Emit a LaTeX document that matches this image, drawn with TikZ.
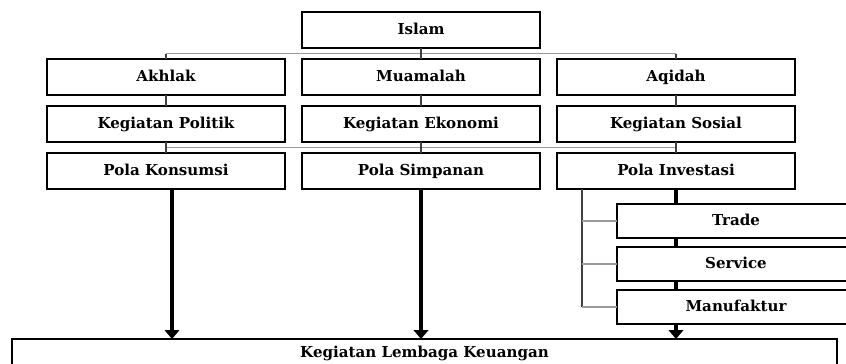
\documentclass[tikz,border=0pt]{standalone}
\usepackage{fontspec}
\setmainfont{DejaVu Serif}
\usetikzlibrary{arrows.meta,positioning,calc}

\begin{document}
\begin{tikzpicture}[x=0.75pt, y=-0.75pt,
      node distance=8.25pt and 12.75pt,
      box/.style={draw, line width=1.1pt, outer sep=0pt, inner sep=0pt,
        minimum width=178.5pt, minimum height=27pt, text height=8pt, text depth=2pt,
        font=\fontsize{11.3}{13}\selectfont\bfseries},
      sub/.style={box, minimum height=25.5pt},
      link/.style={draw=black!40, line width=1pt},
      tick/.style={draw=black!75, line width=1pt},
      bar/.style={line width=3pt},
      arr/.style={-{Triangle[length=6.75pt,width=11pt]}, line width=3pt}]
  \useasboundingbox (0,0) rectangle (846,364);
  \node[box] (islam) at (421,30) {Islam};
  \node[box, below=of islam] (muamalah) {Muamalah};
  \node[box, left=of muamalah] (akhlak) {Akhlak};
  \node[box, right=of muamalah] (aqidah) {Aqidah};
  \node[box, below=of akhlak] (politik) {Kegiatan Politik};
  \node[box, below=of muamalah] (ekonomi) {Kegiatan Ekonomi};
  \node[box, below=of aqidah] (sosial) {Kegiatan Sosial};
  \node[box, below=of politik] (konsumsi) {Pola Konsumsi};
  \node[box, below=of ekonomi] (simpanan) {Pola Simpanan};
  \node[box, below=of sosial] (investasi) {Pola Investasi};
  \node[sub, below=11.25pt of investasi, xshift=45pt] (trade) {Trade};
  \node[sub, below=6.75pt of trade] (service) {Service};
  \node[sub, below=6.75pt of service] (manufaktur) {Manufaktur};
  \node[box, anchor=north, minimum width=618.75pt, minimum height=21pt] (lembaga) at (424.5,339) {Kegiatan Lembaga Keuangan};
  \coordinate (j1) at ($(islam.south)!0.5!(muamalah.north)$);
  \coordinate (j2) at ($(ekonomi.south)!0.5!(simpanan.north)$);
  \draw[link] (j1 -| akhlak.north) -- (j1 -| aqidah.north);
  \draw[link] (j2 -| politik.south) -- (j2 -| sosial.south);
  \draw[tick] (islam.south) -- (muamalah.north);
  \draw[tick] (akhlak.north) -- (j1 -| akhlak.north);
  \draw[tick] (aqidah.north) -- (j1 -| aqidah.north);
  \foreach \a/\b in {akhlak/politik, muamalah/ekonomi, aqidah/sosial}
    \draw[tick] (\a.south) -- (\b.north);
  \draw[tick] (ekonomi.south) -- (simpanan.north);
  \draw[tick] (politik.south) -- (j2 -| politik.south);
  \draw[tick] (sosial.south) -- (j2 -| sosial.south);
  \draw[tick] (j2 -| konsumsi.north) -- (konsumsi.north);
  \draw[tick] (j2 -| investasi.north) -- (investasi.north);
  \coordinate (k) at ([xshift=4.5pt]konsumsi.south);
  \draw[arr] (k) -- (k |- lembaga.north);
  \draw[arr] (simpanan.south) -- (simpanan.south |- lembaga.north);
  \draw[bar] (investasi.south) -- (investasi.south |- trade.north);
  \draw[bar] (investasi.south |- trade.south) -- (investasi.south |- service.north);
  \draw[bar] (investasi.south |- service.south) -- (investasi.south |- manufaktur.north);
  \draw[arr] (investasi.south |- manufaktur.south) -- (investasi.south |- lembaga.north);
  \coordinate (br) at ([xshift=18.75pt]investasi.south west);
  \draw[tick] (br) -- (br |- manufaktur.west);
  \foreach \s in {trade, service, manufaktur}
    \draw[link] (br |- \s.west) -- (\s.west);
\end{tikzpicture}
\end{document}
